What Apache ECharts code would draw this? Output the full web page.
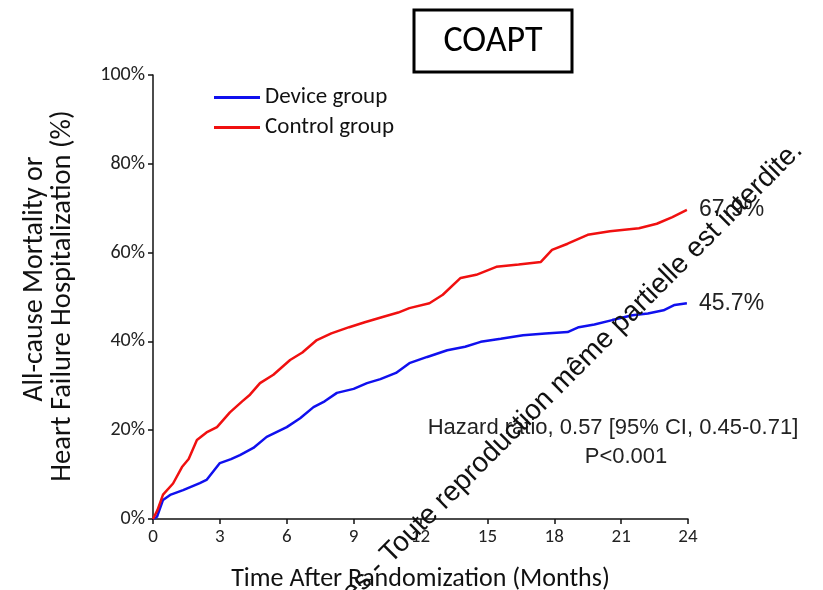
<!DOCTYPE html>
<html>
<head>
<meta charset="utf-8">
<script src="https://cdn.jsdelivr.net/npm/echarts@6/dist/echarts.min.js"></script>
<style>
  html, body { margin: 0; padding: 0; background: #fff; }
  #chart { width: 823px; height: 590px; }
</style>
</head>
<body>
<div id="chart"></div>
<script>
// months, cumulative event rate (%)
const deviceGroup = [
  [0, 0], [0.18, 0.5], [0.45, 4.3], [0.8, 5.5], [1.35, 6.5], [2.1, 8.1], [2.4, 8.8],
  [3.0, 12.6], [3.5, 13.5], [3.9, 14.4], [4.5, 16], [5.1, 18.5], [6.0, 20.7],
  [6.6, 22.7], [7.2, 25.2], [7.7, 26.5], [8.25, 28.4], [9.0, 29.3], [9.6, 30.6],
  [10.2, 31.5], [10.9, 32.9], [11.5, 35.1], [12.3, 36.5], [13.2, 38], [14.0, 38.8],
  [14.7, 39.9], [15.6, 40.6], [16.6, 41.4], [17.6, 41.8], [18.6, 42.1], [19.1, 43.2],
  [19.8, 43.8], [20.6, 44.8], [21.5, 45.9], [22.2, 46.3], [22.9, 47], [23.4, 48.2],
  [23.95, 48.6]
];
const controlGroup = [
  [0, 0], [0.2, 2], [0.45, 5.5], [0.9, 8], [1.3, 11.7], [1.6, 13.5], [1.97, 17.8],
  [2.4, 19.5], [2.87, 20.7], [3.45, 24], [4.0, 26.5], [4.35, 28], [4.8, 30.6],
  [5.4, 32.5], [6.15, 35.8], [6.7, 37.5], [7.35, 40.3], [8.0, 41.8], [8.8, 43.2],
  [9.5, 44.3], [10.3, 45.5], [11.0, 46.5], [11.5, 47.5], [12.4, 48.6], [13.0, 50.5],
  [13.8, 54.3], [14.5, 55], [15.4, 56.8], [16.4, 57.3], [17.4, 57.9], [17.9, 60.6],
  [18.6, 62], [19.5, 64], [20.5, 64.8], [21.8, 65.5], [22.6, 66.5], [23.3, 68],
  [23.95, 69.6]
];
const seriesNames = ['Device group', 'Control group'];
const endLabels = ['45.7%', '67.9%'];
const xTicks = { min: 0, max: 24, interval: 3 };
const yTicks = { min: 0, max: 100, interval: 20 };

const chart = echarts.init(document.getElementById('chart'));
const axisFont = 'Carlito, "Open Sans", "Noto Sans", sans-serif';
const plainFont = '"Liberation Sans", Arial, sans-serif';

chart.setOption({
  animation: false,
  backgroundColor: '#fff',
  grid: { left: 153, right: 135, top: 75, bottom: 71, outerBoundsMode: 'none' },
  legend: {
    left: 209,
    top: 81,
    orient: 'vertical',
    itemWidth: 46,
    itemHeight: 3,
    itemGap: 7,
    icon: 'rect',
    textStyle: { fontFamily: axisFont, fontSize: 23, color: '#111' },
    data: seriesNames
  },
  xAxis: {
    type: 'value',
    min: xTicks.min,
    max: xTicks.max,
    interval: xTicks.interval,
    name: 'Time After Randomization (Months)',
    nameLocation: 'middle',
    nameGap: 47,
    nameTextStyle: { fontFamily: axisFont, fontSize: 26, color: '#111' },
    axisLine: { lineStyle: { color: '#111', width: 1.5 } },
    axisTick: { length: 5, lineStyle: { color: '#111', width: 1.5 } },
    axisLabel: { fontFamily: axisFont, fontSize: 19, color: '#222', margin: 9 },
    splitLine: { show: false }
  },
  yAxis: {
    type: 'value',
    min: yTicks.min,
    max: yTicks.max,
    interval: yTicks.interval,
    axisLine: { show: true, lineStyle: { color: '#111', width: 1.5 } },
    axisTick: { show: true, length: 5, lineStyle: { color: '#111', width: 1.5 } },
    axisLabel: { fontFamily: axisFont, fontSize: 20, color: '#222', margin: 8, formatter: '{value}%' },
    splitLine: { show: false }
  },
  series: [
    {
      name: seriesNames[0],
      type: 'line',
      data: deviceGroup,
      showSymbol: false,
      color: '#1010ee',
      lineStyle: { width: 2.5, color: '#1010ee' },
      endLabel: {
        show: true, formatter: endLabels[0], offset: [4, 0],
        fontFamily: plainFont, fontSize: 23, color: '#222'
      }
    },
    {
      name: seriesNames[1],
      type: 'line',
      data: controlGroup,
      showSymbol: false,
      color: '#f01010',
      lineStyle: { width: 2.5, color: '#f01010' },
      endLabel: {
        show: true, formatter: endLabels[1], offset: [4, 0],
        fontFamily: plainFont, fontSize: 23, color: '#222'
      }
    }
  ],
  graphic: [
    {
      type: 'rect',
      shape: { x: 414, y: 10, width: 158, height: 62 },
      style: { fill: '#fff', stroke: '#000', lineWidth: 3 }
    },
    {
      type: 'text',
      x: 493, y: 42,
      style: {
        text: 'COAPT', fontFamily: axisFont, fontSize: 36, fill: '#000',
        textAlign: 'center', textVerticalAlign: 'middle'
      }
    },
    {
      type: 'text',
      x: 35, y: 279, rotation: Math.PI / 2,
      style: {
        text: 'All-cause Mortality or', fontFamily: axisFont, fontSize: 28, fill: '#111',
        textAlign: 'center', textVerticalAlign: 'middle'
      }
    },
    {
      type: 'text',
      x: 63, y: 296, rotation: Math.PI / 2,
      style: {
        text: 'Heart Failure Hospitalization (%)', fontFamily: axisFont, fontSize: 28.5, fill: '#111',
        textAlign: 'center', textVerticalAlign: 'middle'
      }
    },
    {
      type: 'text',
      x: 613, y: 428,
      style: {
        text: 'Hazard ratio, 0.57 [95% CI, 0.45-0.71]', fontFamily: plainFont, fontSize: 22, fill: '#222',
        textAlign: 'center', textVerticalAlign: 'middle'
      }
    },
    {
      type: 'text',
      x: 626, y: 457,
      style: {
        text: 'P<0.001', fontFamily: plainFont, fontSize: 22, fill: '#222',
        textAlign: 'center', textVerticalAlign: 'middle'
      }
    },
    {
      type: 'text',
      x: 808, y: 156, rotation: Math.PI * 45 / 180,
      z: 100,
      style: {
        text: 'ées - Toute reproduction même partielle est interdite.', fontFamily: plainFont,
        fontSize: 28, fill: '#111', textAlign: 'right', textVerticalAlign: 'bottom'
      }
    }
  ]
});
</script>
</body>
</html>
